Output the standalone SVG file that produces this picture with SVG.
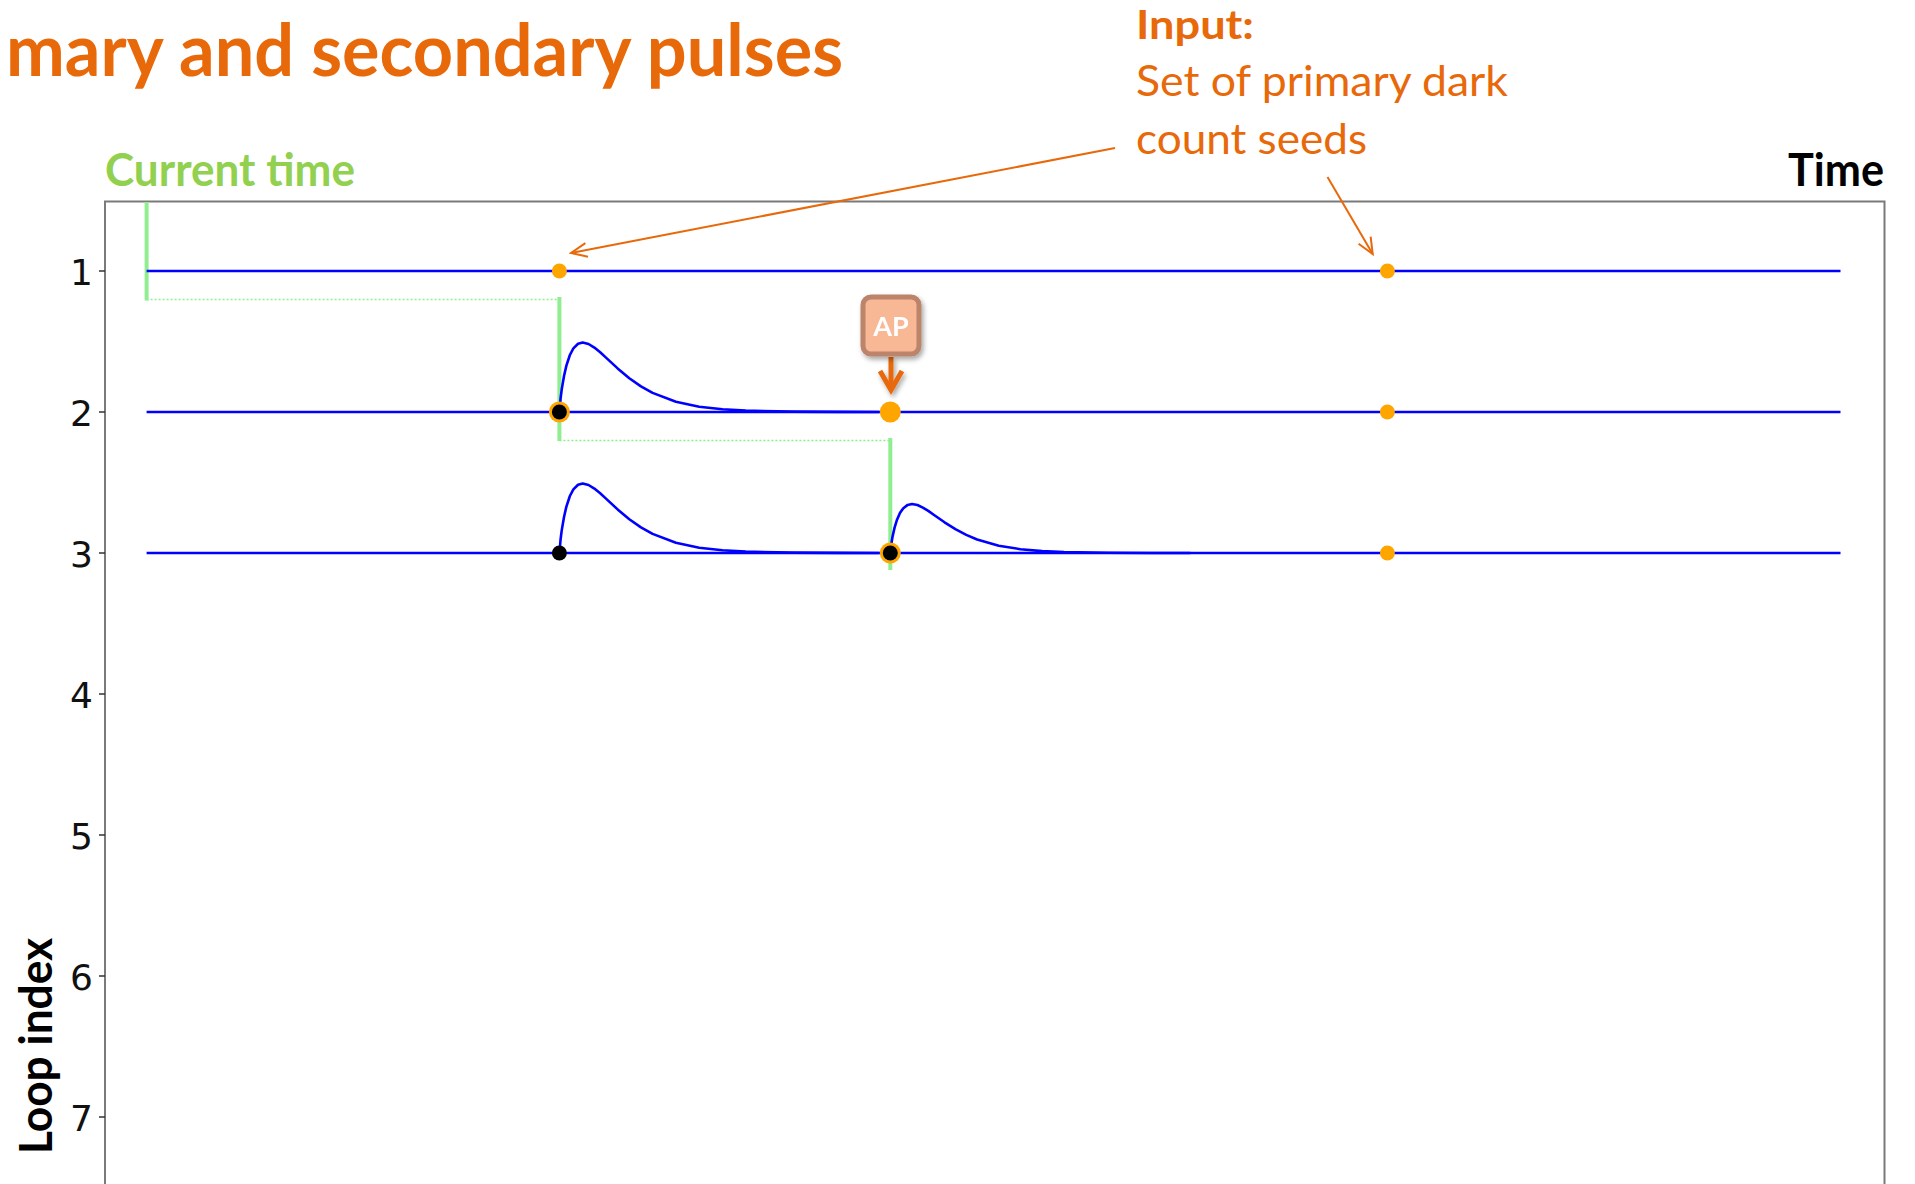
<svg xmlns="http://www.w3.org/2000/svg" width="1915" height="1184" viewBox="0 0 1915 1184">
  <style>
    .cal { font-family: Lato, "Open Sans", "Liberation Sans", sans-serif; }
    .bold { font-weight: 700; }
    .orange { fill: #E8690A; }
    .tick { font-family: "DejaVu Sans", "Liberation Sans", sans-serif; font-size: 36px; fill: #111; text-anchor: end; }
    .loop { fill: none; stroke: #0000FF; stroke-width: 2.6; stroke-linejoin: round; }
    .now { stroke: #90EE90; stroke-width: 4; }
    .trail { stroke: #90EE90; stroke-width: 1.3; stroke-dasharray: 2 2; }
    .seed { fill: #FFA500; }
    .hit { fill: #000; }
    .note { stroke: #E8690A; stroke-width: 2; fill: none; }
  </style>
  <defs>
    <marker id="openHead" viewBox="0 0 20 20" refX="18" refY="10" markerWidth="20" markerHeight="20" markerUnits="userSpaceOnUse" orient="auto">
      <path d="M2,3 L18,10 L2,17" fill="none" stroke="#E8690A" stroke-width="2"/>
    </marker>
    <filter id="soft" x="-50%" y="-50%" width="200%" height="200%">
      <feDropShadow dx="2" dy="3" stdDeviation="2.5" flood-color="#000" flood-opacity="0.35"/>
    </filter>
    <!-- primary pulse shape, origin at the trigger point -->
    <path id="pulseBig" d="M0,0 L1.17,-13.5 L2.33,-22.6 L4.66,-36.3 L6.99,-46.4 L10.49,-57 L13.98,-63.6 L18.64,-68.2 L23.3,-69.5 L29.13,-68 L34.95,-64.4 L40.78,-59.7 L46.6,-54.4 L58.25,-43.6 L69.9,-33.8 L81.55,-25.6 L93.2,-19.1 L116.5,-10.3 L139.8,-5.3 L163.1,-2.7 L186.4,-1.36 L233,-0.33 L279.6,-0.08 L320,0"/>
    <!-- afterpulse shape, smaller amplitude -->
    <path id="pulseSmall" d="M0,0 L1.09,-9.5 L2.17,-16 L4.34,-25.6 L6.51,-32.7 L9.77,-40.2 L13.02,-44.8 L17.36,-48.1 L21.7,-49 L27.13,-48 L32.55,-45.4 L37.98,-42.1 L43.4,-38.3 L54.25,-30.7 L65.1,-23.8 L75.95,-18.1 L86.8,-13.5 L108.5,-7.2 L130.2,-3.8 L151.9,-1.9 L173.6,-0.96 L217,-0.23 L260.4,-0.05 L300,0"/>
  </defs>

  <rect width="1915" height="1184" fill="#FFFFFF"/>

  <!-- headings -->
  <g id="title">
    <text class="cal bold orange" x="6" y="76" font-size="72" textLength="837" lengthAdjust="spacingAndGlyphs">mary and secondary pulses</text>
  </g>
  <g id="input-label">
    <text class="cal bold orange" x="1136" y="39" font-size="40" textLength="118" lengthAdjust="spacingAndGlyphs">Input:</text>
    <text class="cal orange" x="1136" y="96" font-size="42" textLength="372" lengthAdjust="spacingAndGlyphs">Set of primary dark</text>
    <text class="cal orange" x="1136" y="154" font-size="42" textLength="231" lengthAdjust="spacingAndGlyphs">count seeds</text>
  </g>
  <g id="current-time-label">
    <text class="cal bold" x="105" y="186" font-size="46" fill="#92D050" textLength="250" lengthAdjust="spacingAndGlyphs">Current time</text>
  </g>
  <g id="time-label">
    <text class="cal bold" x="1788" y="186" font-size="46" fill="#000" textLength="96" lengthAdjust="spacingAndGlyphs">Time</text>
  </g>
  <g id="loop-index-label">
    <text class="cal bold" transform="translate(52,1154) rotate(-90)" x="0" y="0" font-size="46" fill="#000" textLength="216" lengthAdjust="spacingAndGlyphs">Loop index</text>
  </g>

  <!-- plot frame and y ticks -->
  <g id="axes">
    <path d="M105,1190 V201.5 H1884.5 V1190" fill="none" stroke="#7A7A7A" stroke-width="2"/>
    <g stroke="#333" stroke-width="1.5">
      <line x1="99" y1="271" x2="105" y2="271"/>
      <line x1="99" y1="412" x2="105" y2="412"/>
      <line x1="99" y1="553" x2="105" y2="553"/>
      <line x1="99" y1="694" x2="105" y2="694"/>
      <line x1="99" y1="835" x2="105" y2="835"/>
      <line x1="99" y1="976" x2="105" y2="976"/>
      <line x1="99" y1="1117" x2="105" y2="1117"/>
    </g>
    <text class="tick" x="93" y="285">1</text>
    <text class="tick" x="93" y="426">2</text>
    <text class="tick" x="93" y="567">3</text>
    <text class="tick" x="93" y="708">4</text>
    <text class="tick" x="93" y="849">5</text>
    <text class="tick" x="93" y="990">6</text>
    <text class="tick" x="93" y="1131">7</text>
  </g>

  <g id="connectors">
    <!-- current-time steps -->
    <g id="time-steps">
      <line class="now" x1="146.6" y1="202" x2="146.6" y2="300.5"/>
      <line class="trail" x1="146.6" y1="299.5" x2="559.4" y2="299.5"/>
      <line class="now" x1="559.4" y1="297" x2="559.4" y2="441"/>
      <line class="trail" x1="559.4" y1="440.5" x2="890.3" y2="440.5"/>
      <line class="now" x1="890.3" y1="438" x2="890.3" y2="570"/>
    </g>
    <g id="seed-arrows">
      <line class="note" x1="1115" y1="148" x2="571" y2="253" marker-end="url(#openHead)"/>
      <line class="note" x1="1327.5" y1="177" x2="1372.7" y2="254" marker-end="url(#openHead)"/>
    </g>
    <g id="ap-arrow" filter="url(#soft)">
      <line x1="891" y1="357" x2="891" y2="389" stroke="#E8690A" stroke-width="5"/>
      <path d="M880,371 L891,390 L902,371" fill="none" stroke="#E8690A" stroke-width="5" stroke-linejoin="miter"/>
    </g>
  </g>

  <!-- loops -->
  <g id="loop-1">
    <line class="loop" x1="146.6" y1="271" x2="1840.5" y2="271"/>
  </g>
  <g id="loop-2">
    <line class="loop" x1="146.6" y1="412" x2="1840.5" y2="412"/>
    <use href="#pulseBig" class="loop" x="559.4" y="412"/>
  </g>
  <g id="loop-3">
    <line class="loop" x1="146.6" y1="553" x2="1840.5" y2="553"/>
    <use href="#pulseBig" class="loop" x="559.4" y="553"/>
    <use href="#pulseSmall" class="loop" x="890.3" y="553"/>
  </g>

  <!-- events -->
  <g id="seed-1a"><circle class="seed" cx="559.4" cy="271" r="7.5"/></g>
  <g id="seed-1b"><circle class="seed" cx="1387.4" cy="271" r="7.5"/></g>
  <g id="event-2a"><circle class="seed" cx="559.4" cy="412" r="10.5"/><circle class="hit" cx="559.4" cy="412" r="7.5"/></g>
  <g id="afterpulse-2"><circle class="seed" cx="890.3" cy="412" r="10.5"/></g>
  <g id="seed-2b"><circle class="seed" cx="1387.4" cy="412" r="7.5"/></g>
  <g id="event-3a"><circle class="hit" cx="559.4" cy="553" r="7.5"/></g>
  <g id="event-3b"><circle class="seed" cx="890.3" cy="553" r="10.5"/><circle class="hit" cx="890.3" cy="553" r="7.5"/></g>
  <g id="seed-3c"><circle class="seed" cx="1387.4" cy="553" r="7.5"/></g>

  <!-- afterpulse callout -->
  <g id="ap-box" filter="url(#soft)">
    <rect x="863" y="297" width="56" height="57" rx="8" ry="8" fill="#F8B795" stroke="#BC846A" stroke-width="5"/>
    <text class="cal bold" x="891" y="336" font-size="27" fill="#FFFFFF" text-anchor="middle">AP</text>
  </g>
</svg>
